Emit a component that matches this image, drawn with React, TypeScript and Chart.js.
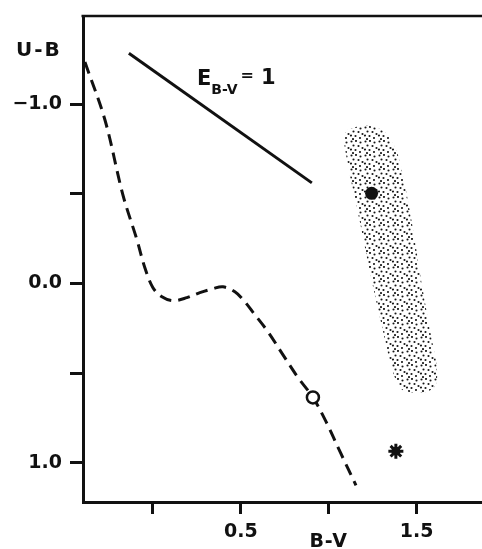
import React, { useEffect, useRef } from 'react';
import { Chart, registerables } from 'chart.js';

Chart.register(...registerables);

// ---------- data ----------
const X_TICKS = [0, 0.5, 1.0, 1.5];
const X_TICK_LABELS = ['', '0.5', '', '1.5'];
const Y_TICKS = [-1.0, -0.5, 0.0, 0.5, 1.0];
const Y_TICK_LABELS = ['\u22121.0', '', '0.0', '', '1.0'];

const X_MIN = -0.398;
const X_MAX = 1.872;
const Y_MIN = -1.494;
const Y_MAX = 1.22;

// intrinsic colour sequence (dashed)
const SEQ_BV = [-0.387, -0.273, -0.171, -0.091, -0.046, 0.0, 0.051, 0.114, 0.193, 0.267, 0.341, 0.398, 0.466, 0.518, 0.575, 0.654, 0.739, 0.825, 0.91, 0.984, 1.069, 1.155];
const SEQ_UB = [-1.237, -0.913, -0.495, -0.244, -0.088, 0.023, 0.074, 0.096, 0.079, 0.051, 0.029, 0.018, 0.046, 0.096, 0.168, 0.269, 0.397, 0.525, 0.636, 0.77, 0.949, 1.127];

// reddening vector E(B-V) = 1
const REDDEN_BV = [-0.137, 0.904];
const REDDEN_UB = [-1.286, -0.562];

// stippled region outline
const CLOUD_BV = [1.104, 1.177, 1.263, 1.325, 1.388, 1.433, 1.485, 1.53, 1.581, 1.615, 1.61, 1.564, 1.49, 1.416, 1.365, 1.297, 1.234, 1.177, 1.126, 1.092, 1.086, 1.104];
const CLOUD_UB = [-0.857, -0.88, -0.874, -0.841, -0.735, -0.551, -0.272, 0.007, 0.285, 0.469, 0.564, 0.603, 0.609, 0.592, 0.492, 0.213, -0.066, -0.345, -0.579, -0.757, -0.824, -0.857];

const OPEN_BV = [0.91];
const OPEN_UB = [0.636];
const FILLED_BV = [1.244];
const FILLED_UB = [-0.504];
const STAR_BV = [1.382];
const STAR_UB = [0.936];

const INK = '#111111';
const FONT = '"DejaVu Sans", "Liberation Sans", sans-serif';

const pts = (xs: number[], ys: number[]) => xs.map((x, i) => ({ x, y: ys[i] }));

function makeStipple(): CanvasPattern | string {
  const c = document.createElement('canvas');
  const T = 14;
  c.width = T;
  c.height = T;
  const g = c.getContext('2d');
  if (!g) return 'rgba(0,0,0,0.3)';
  g.fillStyle = '#161616';
  const dots = [
    [1.5, 1.5], [6, 1], [10.5, 2.5], [3.5, 5.5], [8.5, 6], [12.5, 8],
    [1, 9.5], [5.5, 10], [10, 12], [3, 13],
  ];
  const r = 1.05;
  dots.forEach(([dx, dy]) => {
    for (const ox of [-T, 0, T]) {
      for (const oy of [-T, 0, T]) {
        g.beginPath();
        g.arc(dx + ox, dy + oy, r, 0, Math.PI * 2);
        g.fill();
      }
    }
  });
  const p = g.createPattern(c, 'repeat');
  return p || 'rgba(0,0,0,0.3)';
}

const annotations = {
  id: 'annotations',
  afterDraw(chart: any) {
    const { ctx, chartArea, scales } = chart;
    const xs = scales.x;
    const ys = scales.y;
    ctx.save();
    // top frame line
    ctx.strokeStyle = INK;
    ctx.lineWidth = 2.5;
    ctx.beginPath();
    ctx.moveTo(chartArea.left - 1.5, chartArea.top);
    ctx.lineTo(chartArea.right, chartArea.top);
    ctx.stroke();

    ctx.fillStyle = INK;
    ctx.textAlign = 'left';
    ctx.textBaseline = 'alphabetic';

    // y-axis title
    ctx.font = `bold 20px ${FONT}`;
    (ctx as any).letterSpacing = '2px';
    ctx.fillText('U-B', chartArea.left - 67, chartArea.top + 40);

    // x-axis title under the 1.0 tick
    ctx.font = `bold 19px ${FONT}`;
    (ctx as any).letterSpacing = '1px';
    ctx.textAlign = 'center';
    ctx.fillText('B-V', xs.getPixelForValue(1.0), chartArea.bottom + 45);

    // E_{B-V} = 1 label
    (ctx as any).letterSpacing = '0px';
    ctx.textAlign = 'left';
    let px = xs.getPixelForValue(0.25);
    const py = ys.getPixelForValue(-1.11);
    ctx.font = `bold 21px ${FONT}`;
    ctx.fillText('E', px, py);
    px += ctx.measureText('E').width;
    ctx.font = `bold 14px ${FONT}`;
    ctx.fillText('B-V', px, py + 9);
    px += ctx.measureText('B-V').width + 3;
    ctx.font = `bold 16px ${FONT}`;
    ctx.fillText('=', px, py - 5);
    px += ctx.measureText('=').width + 7;
    ctx.font = `bold 21px ${FONT}`;
    ctx.fillText('1', px, py - 1);
    ctx.restore();
  },
};

export default function App() {
  const ref = useRef<HTMLCanvasElement | null>(null);

  useEffect(() => {
    document.body.style.margin = '0';
    const canvas = ref.current;
    if (!canvas) return;
    const tickFont = { family: FONT, size: 19, weight: 'bold' as const };

    const chart = new Chart(canvas, {
      type: 'scatter',
      data: {
        datasets: [
          {
            label: 'filled',
            data: pts(FILLED_BV, FILLED_UB),
            pointRadius: 6.5,
            pointBackgroundColor: INK,
            pointBorderColor: INK,
            pointBorderWidth: 0,
            showLine: false,
            order: 0,
          },
          {
            label: 'open',
            data: pts(OPEN_BV, OPEN_UB),
            pointRadius: 6,
            pointBackgroundColor: '#ffffff',
            pointBorderColor: INK,
            pointBorderWidth: 2.5,
            showLine: false,
            order: 0,
          },
          {
            label: 'star',
            data: pts(STAR_BV, STAR_UB),
            pointStyle: 'star',
            pointRadius: 7.5,
            pointBorderColor: INK,
            pointBorderWidth: 3,
            showLine: false,
            order: 0,
          },
          {
            label: 'starcore',
            data: pts(STAR_BV, STAR_UB),
            pointRadius: 4.5,
            pointBackgroundColor: INK,
            pointBorderWidth: 0,
            showLine: false,
            order: 0,
          },
          {
            label: 'reddening',
            data: pts(REDDEN_BV, REDDEN_UB),
            showLine: true,
            borderColor: INK,
            borderWidth: 3,
            pointRadius: 0,
            order: 1,
          },
          {
            label: 'sequence',
            data: pts(SEQ_BV, SEQ_UB),
            showLine: true,
            borderColor: INK,
            borderWidth: 3,
            borderDash: [12, 7],
            tension: 0.35,
            pointRadius: 0,
            order: 1,
          },
          {
            label: 'cloud',
            data: pts(CLOUD_BV, CLOUD_UB),
            showLine: true,
            borderColor: 'rgba(0,0,0,0)',
            borderWidth: 0,
            backgroundColor: makeStipple() as any,
            fill: 'shape',
            tension: 0.3,
            pointRadius: 0,
            order: 5,
          },
        ],
      },
      options: {
        responsive: false,
        animation: false,
        events: [],
        layout: { autoPadding: false, padding: { top: 16, left: 0, right: 0, bottom: 0 } },
        plugins: {
          legend: { display: false },
          tooltip: { enabled: false },
        },
        scales: {
          x: {
            type: 'linear',
            min: X_MIN,
            max: X_MAX,
            afterBuildTicks: (s: any) => {
              s.ticks = X_TICKS.map((v) => ({ value: v }));
            },
            afterFit: (s: any) => {
              s.height = 47;
              s.paddingLeft = 0;
              s.paddingRight = 0;
            },
            ticks: {
              autoSkip: false,
              maxRotation: 0,
              padding: 7,
              color: INK,
              font: tickFont,
              callback: (_v: any, i: number) => X_TICK_LABELS[i] ?? '',
            },
            grid: {
              drawOnChartArea: false,
              drawTicks: true,
              tickLength: 12,
              tickWidth: 3,
              tickColor: INK,
            },
            border: { display: true, width: 3, color: INK },
          },
          y: {
            type: 'linear',
            reverse: true,
            min: Y_MIN,
            max: Y_MAX,
            afterBuildTicks: (s: any) => {
              s.ticks = Y_TICKS.map((v) => ({ value: v }));
            },
            afterFit: (s: any) => {
              s.width = 83;
              s.paddingTop = 0;
              s.paddingBottom = 0;
            },
            ticks: {
              autoSkip: false,
              padding: 8,
              color: INK,
              font: tickFont,
              callback: (_v: any, i: number) => Y_TICK_LABELS[i] ?? '',
            },
            grid: {
              drawOnChartArea: false,
              drawTicks: true,
              tickLength: 13,
              tickWidth: 3,
              tickColor: INK,
            },
            border: { display: true, width: 3, color: INK },
          },
        },
      },
      plugins: [annotations],
    });
    return () => chart.destroy();
  }, []);

  return (
    <div style={{ position: 'absolute', left: 0, top: 0, width: 482, height: 549, background: '#ffffff' }}>
      <canvas ref={ref} width={482} height={549} style={{ display: 'block', width: 482, height: 549 }} />
    </div>
  );
}
